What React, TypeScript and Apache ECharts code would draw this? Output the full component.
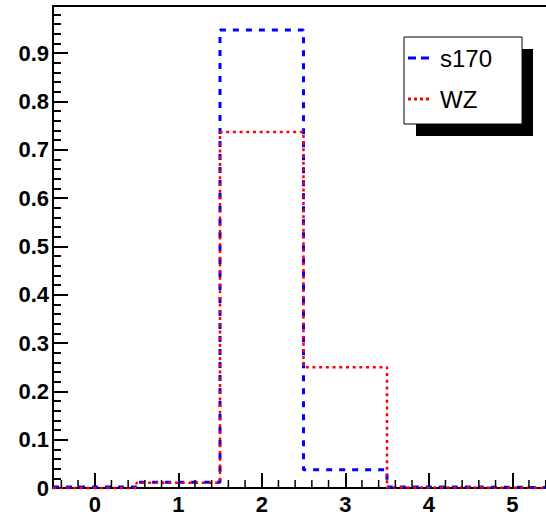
import React, { useEffect, useRef } from 'react';
import * as echarts from 'echarts';

// Histogram bins (bin centres) and contents
const binCenters = [0, 1, 2, 3, 4, 5];
const s170 = [0.002, 0.012, 0.948, 0.038, 0.002, 0.001];
const wz = [0.0, 0.011, 0.737, 0.25, 0.001, 0.0];
const seriesNames = ['s170', 'WZ'];
const xRange = [-0.5, 5.5];
const yMax = 0.9975;

function stepPoints(values: number[]) {
  const pts: number[][] = [];
  binCenters.forEach((c, i) => {
    pts.push([c - 0.5, values[i]], [c + 0.5, values[i]]);
  });
  return pts;
}

function xMinorTicks() {
  const out: number[][] = [];
  for (let k = Math.round(xRange[0] * 5); k <= Math.round(xRange[1] * 5); k++) {
    if (k % 5 !== 0) out.push([k / 5, 0]);
  }
  return out;
}

const FONT = 'Liberation Sans, Arial, Helvetica, sans-serif';

export default function App() {
  const ref = useRef<HTMLDivElement>(null);
  useEffect(() => {
    if (!ref.current) return;
    const chart = echarts.init(ref.current, null, { renderer: 'svg' });
    chart.setOption({
      animation: false,
      backgroundColor: '#fff',
      grid: {
        left: 53,
        top: 6,
        right: -8,
        bottom: 24,
        show: false,
        outerBoundsMode: 'none',
        containLabel: false,
      },
      xAxis: [
        {
          type: 'value',
          min: xRange[0],
          max: xRange[1],
          splitNumber: 6,
          axisLine: { show: true, onZero: false, lineStyle: { color: '#000', width: 2 } },
          axisTick: { show: true, inside: true, length: 15, lineStyle: { color: '#000', width: 2 } },
          minorTick: { show: false },
          splitLine: { show: false },
          axisLabel: {
            color: '#000',
            fontFamily: FONT,
            fontWeight: 'bold',
            fontSize: 22,
            margin: 5,
            formatter: (v: number) => (Math.abs(v - Math.round(v)) < 1e-6 ? String(Math.round(v)) : ''),
          },
        },
        {
          type: 'value',
          position: 'top',
          min: xRange[0],
          max: xRange[1],
          axisLine: { show: true, onZero: false, lineStyle: { color: '#000', width: 2 } },
          axisTick: { show: false },
          axisLabel: { show: false },
          splitLine: { show: false },
        },
      ],
      yAxis: {
        type: 'value',
        min: 0,
        max: yMax,
        interval: 0.1,
        axisLine: { show: true, onZero: false, lineStyle: { color: '#000', width: 2 } },
        axisTick: { show: true, inside: true, length: 15, lineStyle: { color: '#000', width: 2 } },
        minorTick: { show: true, splitNumber: 5, length: 8, lineStyle: { color: '#000', width: 2 } },
        splitLine: { show: false },
        axisLabel: {
          color: '#000',
          fontFamily: FONT,
          fontWeight: 'bold',
          fontSize: 22,
          margin: 4,
          showMaxLabel: false,
          formatter: (v: number) => (v > 0.95 ? '' : String(Math.round(v * 10) / 10)),
        },
      },
      legend: {
        data: [
          { name: seriesNames[0], icon: 'path://M0,0h8v3h-8z M13,0h8v3h-8z' },
          { name: seriesNames[1], icon: 'path://M0,0h3v3h-3z M6,0h3v3h-3z M12,0h3v3h-3z M18,0h3v3h-3z' },
        ],
        orient: 'vertical',
        left: 404,
        top: 37,
        padding: [9, 30, 13, 4],
        itemWidth: 21,
        itemHeight: 3,
        itemGap: 17,
        backgroundColor: '#fff',
        borderColor: '#000',
        borderWidth: 1,
        textStyle: { color: '#000', fontFamily: FONT, fontSize: 24, padding: [0, 0, 0, 6] },
      },
      graphic: [
        {
          type: 'rect',
          z: 1,
          shape: { x: 416, y: 49, width: 117, height: 87 },
          style: { fill: '#000' },
        },
      ],
      series: [
        {
          name: seriesNames[0],
          type: 'line',
          data: stepPoints(s170),
          showSymbol: false,
          symbol: 'none',
          clip: false,
          z: 3,
          lineStyle: { color: '#0000ff', width: 3, type: [6, 7] },
          itemStyle: { color: '#0000ff' },
        },
        {
          name: seriesNames[1],
          type: 'line',
          data: stepPoints(wz),
          showSymbol: false,
          symbol: 'none',
          clip: false,
          z: 4,
          lineStyle: { color: '#ff0000', width: 2.5, type: [3, 3.7] },
          itemStyle: { color: '#ff0000' },
        },
        {
          name: 'minorTicks',
          type: 'custom',
          data: xMinorTicks(),
          silent: true,
          clip: false,
          z: 5,
          renderItem: (params: any, api: any) => {
            const p = api.coord([api.value(0), 0]);
            return {
              type: 'rect',
              shape: { x: p[0] - 0.75, y: p[1] - 8, width: 1.5, height: 8 },
              style: { fill: '#000' },
            };
          },
        },
      ],
    });
    return () => chart.dispose();
  }, []);
  return (
    <div
      ref={ref}
      style={{ position: 'fixed', left: 0, top: 0, width: 546, height: 512, background: '#fff' }}
    />
  );
}
